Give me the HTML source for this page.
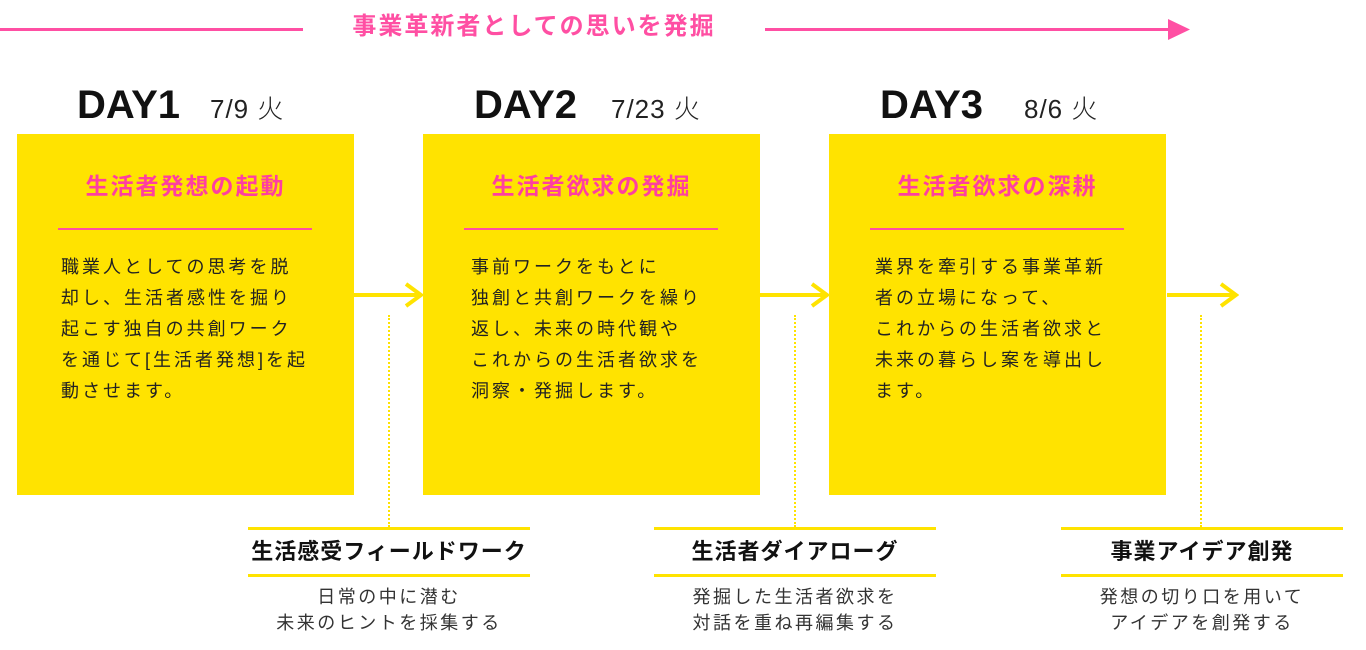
<!DOCTYPE html>
<html><head><meta charset="utf-8"><style>
*{margin:0;padding:0;box-sizing:border-box}
body{width:1366px;height:650px;background:#fff;position:relative;overflow:hidden;font-family:"Liberation Sans","Noto Sans CJK JP",sans-serif;color:#222}
.a{position:absolute}
.pk{background:#ff4fa3}
.title{left:300px;width:468px;top:6px;text-align:center;color:#ff4fa3;font-weight:bold;font-size:24px;letter-spacing:2px}
.day{font-weight:bold;font-size:40px;color:#111;top:82px;line-height:46px}
.date{font-size:26px;top:91px;line-height:36px;font-weight:300;color:#222;letter-spacing:1px}
.box{background:#ffe300;top:134px;width:337px;height:361px}
.bt{position:absolute;left:0;right:0;top:33px;text-align:center;color:#ff3fa0;font-weight:bold;font-size:23px;letter-spacing:2px}
.bl{position:absolute;left:41px;width:254px;top:94px;height:2px;background:#ff4fa3}
.tx{position:absolute;left:44px;top:118px;font-size:18px;line-height:31px;letter-spacing:3px;white-space:nowrap;color:#222}
.dot{width:0;border-left:2px dotted #ffe300;top:315px;height:212px}
.sb{width:282px;top:527px;height:50px;border-top:3px solid #ffe300;border-bottom:3px solid #ffe300;text-align:center;font-weight:bold;font-size:22px;letter-spacing:1px;line-height:44px;color:#111}
.ss{width:282px;top:584px;text-align:center;font-size:18px;line-height:26px;letter-spacing:2.5px;color:#333}
</style></head><body>
<div class="a pk" style="left:0;top:28px;width:303px;height:3px"></div>
<div class="a title">事業革新者としての思いを発掘</div>
<div class="a pk" style="left:765px;top:28px;width:410px;height:3px"></div>
<svg class="a" style="left:1168px;top:19px" width="24" height="22"><polygon points="0,0 22,10.5 0,21" fill="#ff4fa3"/></svg>

<div class="a day" style="left:77px">DAY1</div><div class="a date" style="left:210px">7/9 火</div>
<div class="a day" style="left:474px">DAY2</div><div class="a date" style="left:611px">7/23 火</div>
<div class="a day" style="left:880px">DAY3</div><div class="a date" style="left:1024px">8/6 火</div>

<div class="a box" style="left:17px"><div class="bt">生活者発想の起動</div><div class="bl"></div>
<div class="tx">職業人としての思考を脱<br>却し、生活者感性を掘り<br>起こす独自の共創ワーク<br>を通じて[生活者発想]を起<br>動させます。</div></div>
<div class="a box" style="left:423px"><div class="bt">生活者欲求の発掘</div><div class="bl"></div>
<div class="tx" style="left:48px">事前ワークをもとに<br>独創と共創ワークを繰り<br>返し、未来の時代観や<br>これからの生活者欲求を<br>洞察・発掘します。</div></div>
<div class="a box" style="left:829px"><div class="bt">生活者欲求の深耕</div><div class="bl"></div>
<div class="tx" style="left:46px">業界を牽引する事業革新<br>者の立場になって、<br>これからの生活者欲求と<br>未来の暮らし案を導出し<br>ます。</div></div>

<svg class="a" style="left:354px;top:282px" width="70" height="28"><path d="M0 13H66M52 2L67 13L52 24" stroke="#ffe300" stroke-width="4" fill="none"/></svg>
<svg class="a" style="left:760px;top:282px" width="70" height="28"><path d="M0 13H66M52 2L67 13L52 24" stroke="#ffe300" stroke-width="4" fill="none"/></svg>
<svg class="a" style="left:1167px;top:282px" width="72" height="28"><path d="M0 13H68M54 2L69 13L54 24" stroke="#ffe300" stroke-width="4" fill="none"/></svg>

<div class="a dot" style="left:388px"></div>
<div class="a dot" style="left:794px"></div>
<div class="a dot" style="left:1200px"></div>

<div class="a sb" style="left:248px">生活感受フィールドワーク</div>
<div class="a ss" style="left:248px">日常の中に潜む<br>未来のヒントを採集する</div>
<div class="a sb" style="left:654px">生活者ダイアローグ</div>
<div class="a ss" style="left:654px">発掘した生活者欲求を<br>対話を重ね再編集する</div>
<div class="a sb" style="left:1061px">事業アイデア創発</div>
<div class="a ss" style="left:1061px">発想の切り口を用いて<br>アイデアを創発する</div>
</body></html>
